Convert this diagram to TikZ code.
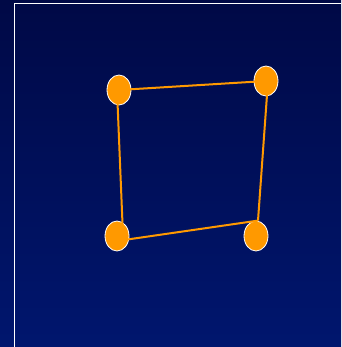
\documentclass[tikz,border=0pt]{standalone}
\usetikzlibrary{shapes.geometric}
\definecolor{navytop}{HTML}{000946}
\definecolor{navybot}{HTML}{00166E}
\definecolor{dotorange}{HTML}{FF9900}
\begin{document}
\begin{tikzpicture}[
    x=1pt, y=-1pt,
    dot/.style={
      ellipse, minimum width=24pt, minimum height=30pt, inner sep=0pt,
      draw=white, line width=0.8pt, fill=dotorange
    },
    edge/.style={line width=2pt, dotorange}
  ]
  % background and frame
  \shade[top color=navytop, bottom color=navybot] (0,0) rectangle (341,347);
  \useasboundingbox (0,0) rectangle (341,347);
  \draw[white, line width=1pt] (14,347) -- (14,3.5) -- (341,3.5);

  \node[dot] (tl) at (119,90) {};
  \node[dot] (tr) at (266,81) {};
  \node[dot] (bl) at (117,236) {};
  \node[dot] (br) at (256,236) {};

  \draw[edge] (tl.center) -- (tr.center);
  \draw[edge] ([xshift=-2pt]tl.center) -- ([xshift=6pt]bl.center);
  \draw[edge] ([yshift=-5pt]bl.center) -- ([xshift=2pt]br.north);
  \draw[edge] ([xshift=2pt]tr.center) -- ([xshift=2pt]br.north);
\end{tikzpicture}
\end{document}
